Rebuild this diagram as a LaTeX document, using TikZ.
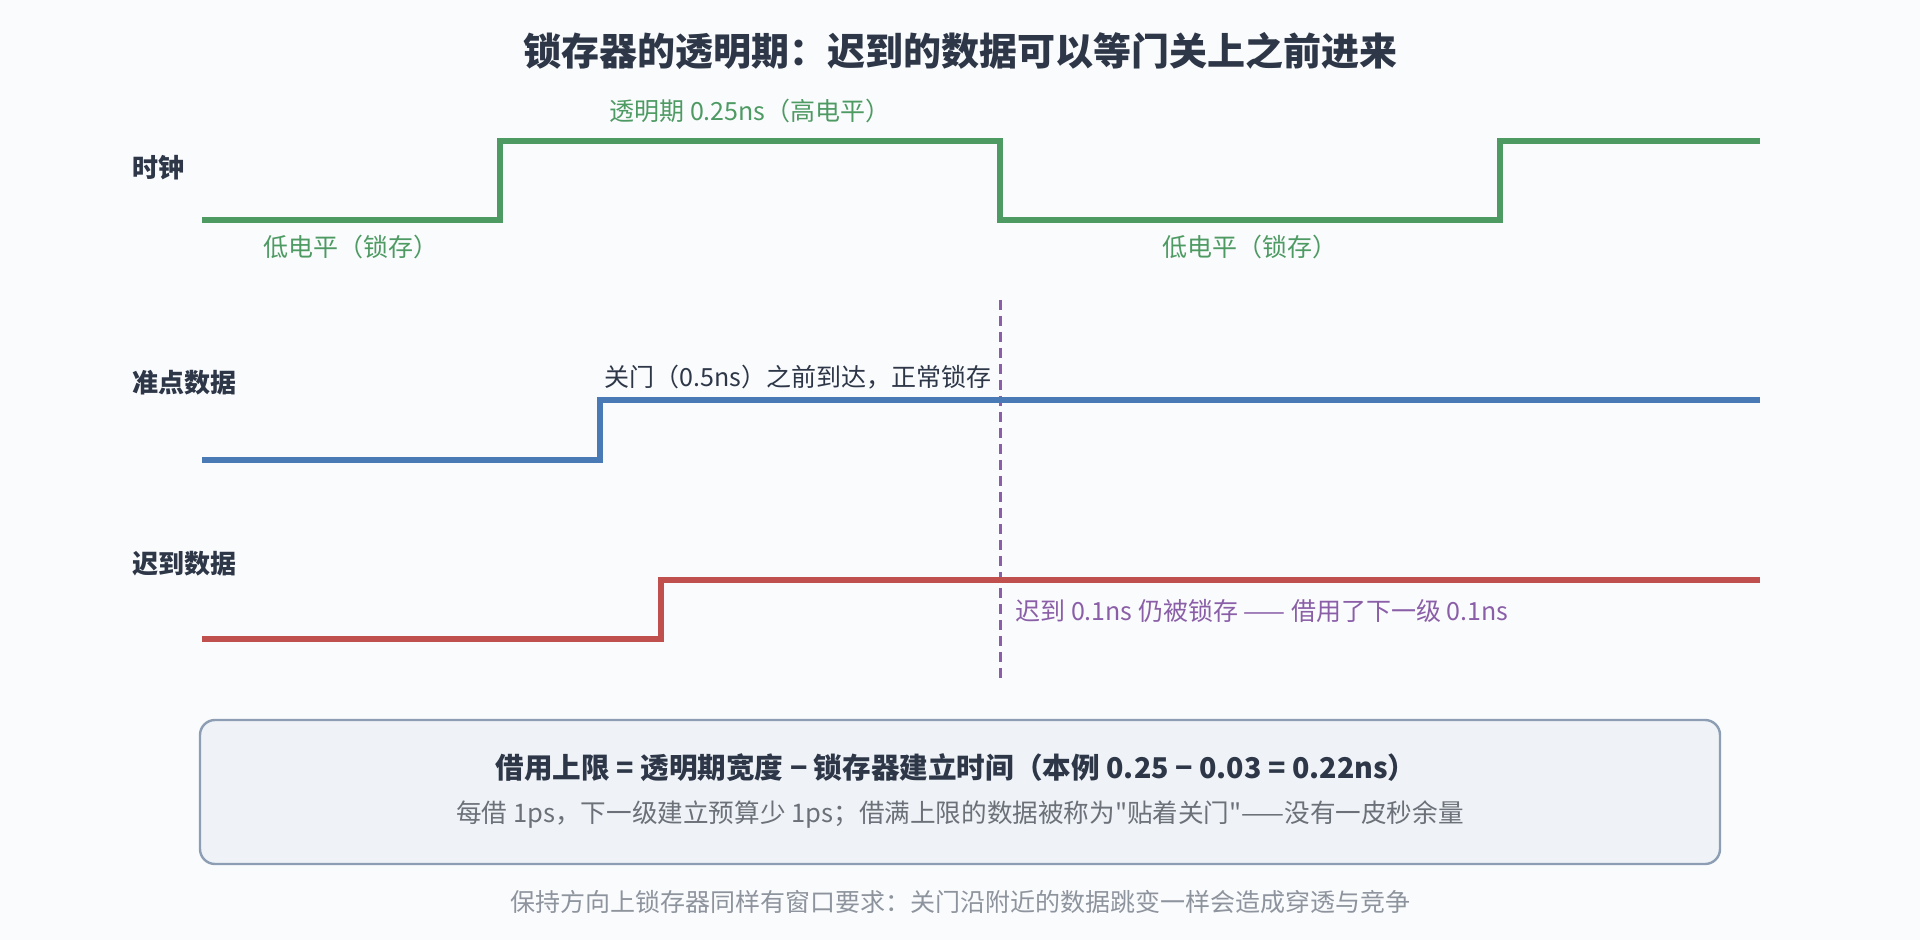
\documentclass[tikz,border=0pt]{standalone}
\usepackage{fontspec}
\setmainfont{Noto Sans CJK SC}[Ligatures=TeXOff]
\definecolor{bg}{HTML}{FAFBFD}
\definecolor{ink}{HTML}{2D3748}
\definecolor{clkgreen}{HTML}{4E9A63}
\definecolor{ontime}{HTML}{4A7AB6}
\definecolor{late}{HTML}{C0504D}
\definecolor{gate}{HTML}{8A5FA8}
\definecolor{boxfill}{HTML}{EFF3F7}
\definecolor{boxline}{HTML}{8D9DB3}
\definecolor{note}{HTML}{6B7079}
\definecolor{foot}{HTML}{8E949D}
\tikzset{
  wave/.style={line width=2.9pt, line join=miter},
  lvl/.style={font=\fontsize{12.5}{15}\selectfont, inner sep=0pt},
  sig/.style={font=\fontsize{13}{16}\selectfont\bfseries, color=ink, anchor=west, inner sep=0pt},
}
\begin{document}
\begin{tikzpicture}[x=0.5pt,y=-0.5pt]
  \fill[bg] (0,0) rectangle (1920,940);
  \node[font=\fontsize{19}{23}\selectfont\bfseries, color=ink, inner sep=0pt]
  (title) at (960,51) {锁存器的透明期：迟到的数据可以等门关上之前进来};

  \node[sig] (clk) at (132,168) {时钟};
  \draw[wave,color=clkgreen] (202,220) -- (500,220) -- (500,141) -- (1000,141)
  -- (1000,220) -- (1500,220) -- (1500,141) -- (1760,141);
  \node[lvl,color=clkgreen] (open) at (750,111) {透明期 0.25ns（高电平）};
  \node[lvl,color=clkgreen] (lowa) at (351,247) {低电平（锁存）};
  \node[lvl,color=clkgreen] (lowb) at (1250,247) {低电平（锁存）};

  \draw[color=gate,line width=1.5pt,dash pattern=on 5pt off 3pt] (1000,300) -- (1000,680);

  \node[sig] (good) at (132,383) {准点数据};
  \draw[wave,color=ontime] (202,460) -- (600,460) -- (600,400) -- (1760,400);
  \node[lvl,color=ink,anchor=east] (goodtxt) at (992,377) {关门（0.5ns）之前到达，正常锁存};

  \node[sig] (bad) at (132,564) {迟到数据};
  \draw[wave,color=late] (202,639) -- (661,639) -- (661,580) -- (1760,580);
  \node[lvl,color=gate,anchor=west] (badtxt) at (1015,611) {迟到 0.1ns 仍被锁存 —— 借用了下一级 0.1ns};

  \draw[fill=boxfill,draw=boxline,line width=1.2pt,rounded corners=7.5pt]
  (200,720) rectangle (1720,864);
  \node[font=\fontsize{14.3}{17}\selectfont\bfseries, color=ink, inner sep=0pt]
  (rule) at (956,768) {借用上限 = 透明期宽度 − 锁存器建立时间（本例 0.25 − 0.03 = 0.22ns）};
  \node[font=\fontsize{12.8}{15}\selectfont, inner sep=0pt, color=note] (cost) at (960,815) {每借 1ps，下一级建立预算少 1ps；借满上限的数据被称为"贴着关门"——没有一皮秒余量};
  \node[lvl,color=foot] (hold) at (960,902) {保持方向上锁存器同样有窗口要求：关门沿附近的数据跳变一样会造成穿透与竞争};
\end{tikzpicture}
\end{document}
